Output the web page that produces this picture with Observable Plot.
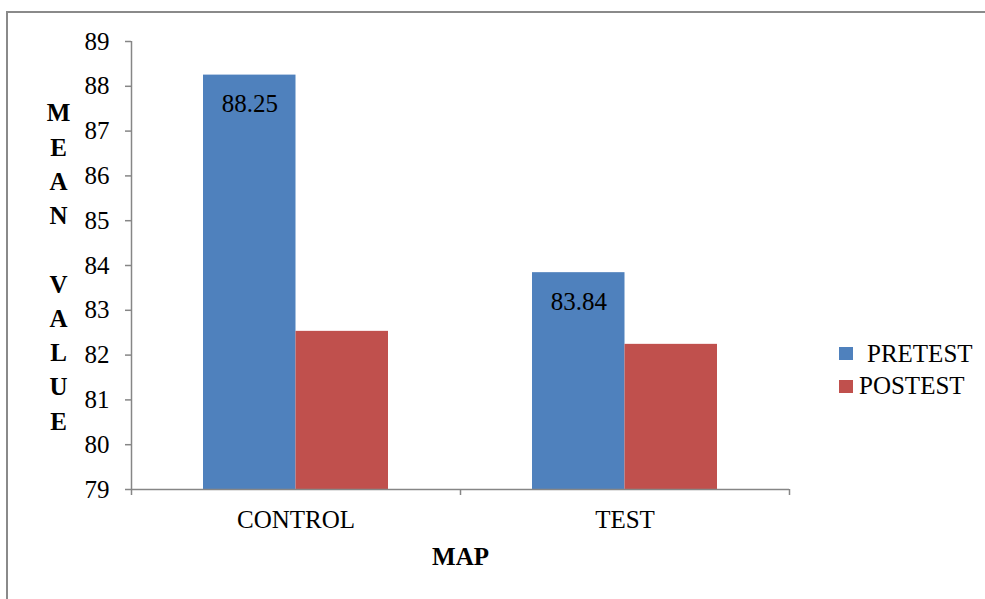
<!DOCTYPE html>
<html><head><meta charset="utf-8">
<script src="https://cdn.jsdelivr.net/npm/d3@7"></script>
<script src="https://cdn.jsdelivr.net/npm/@observablehq/plot@0.6"></script>
<style>
html,body{margin:0;padding:0;background:#fff;overflow:hidden;}
#wrap{position:relative;width:985px;height:599px;font-family:"Liberation Serif","DejaVu Serif",serif;}
#border{position:absolute;left:6px;top:11px;width:1000px;height:700px;border:2px solid #8a8a8a;pointer-events:none;z-index:2;}
#chart{position:absolute;left:0;top:0;}
#legend{position:absolute;left:0;top:0;font-size:25px;color:#000;line-height:1;}
.sw{position:absolute;width:14px;height:13px;}
.lb{position:absolute;white-space:nowrap;}
</style>
</head><body>
<div id="wrap"><div id="chart"></div><div id="legend"></div><div id="border"></div></div>
<script>
const groups = ["CONTROL", "TEST"];
const series = ["PRETEST", "POSTEST"];
const pretest = [88.25, 83.84];
const postest = [82.53, 82.24];
const yTicks = [79, 80, 81, 82, 83, 84, 85, 86, 87, 88, 89];
const colors = ["#4F81BD", "#C0504D"];
const yTitle = "M\nE\nA\nN\n\nV\nA\nL\nU\nE";
const xTitle = "MAP";

const data = groups.flatMap((g, i) => [
  {group: g, series: series[0], value: pretest[i]},
  {group: g, series: series[1], value: postest[i]}
]);
const yMin = yTicks[0], yMax = yTicks[yTicks.length - 1];

const W = 985, H = 599, mL = 131, mR = 196, mT = 41, mB = 110;
const bw = (W - mL - mR) / groups.length;
const gap = 72;            // space between band edge and first bar
const barW = (bw - 2 * gap) / 2;
const axisGray = "#868686";
const FS = 25;

const plot = Plot.plot({
  width: W, height: H,
  marginLeft: mL, marginRight: mR, marginTop: mT, marginBottom: mB,
  style: {background: "transparent", fontFamily: '"Liberation Serif","DejaVu Serif",serif', fontSize: FS + "px", color: "#000"},
  x: {type: "band", domain: groups, padding: 0},
  y: {domain: [yMin, yMax]},
  color: {domain: series, range: colors},
  marks: [
    Plot.barY(data.filter(d => d.series === series[0]), {x: "group", y1: () => yMin, y2: "value", fill: colors[0], insetLeft: gap, insetRight: gap + barW}),
    Plot.barY(data.filter(d => d.series === series[1]), {x: "group", y1: () => yMin, y2: "value", fill: colors[1], insetLeft: gap + barW, insetRight: gap}),
    Plot.text(data.filter(d => d.series === series[0]), {x: "group", y: "value", text: d => d.value.toFixed(2), dx: -(barW / 2), dy: 29, fontSize: FS, fill: "#000"}),
    Plot.ruleY([yMin], {stroke: axisGray, strokeWidth: 1.5}),
    Plot.ruleX([groups[0]], {x: d => d, dx: -bw / 2, y1: () => yMin, y2: () => yMax, stroke: axisGray, strokeWidth: 1.5}),
    Plot.ruleX(groups, {x: d => d, dx: -bw / 2, y1: () => yMin, y2: () => yMin, insetBottom: -6, stroke: axisGray, strokeWidth: 1.5}),
    Plot.ruleX([groups[groups.length - 1]], {x: d => d, dx: bw / 2, y1: () => yMin, y2: () => yMin, insetBottom: -6, stroke: axisGray, strokeWidth: 1.5}),
    Plot.axisY({ticks: yTicks, tickSize: 6, tickPadding: 16, stroke: axisGray, strokeWidth: 1.5, fill: "#000", fontSize: FS, label: null}),
    Plot.axisX({tickSize: 0, tickPadding: 21, fill: "#000", fontSize: FS, label: null}),
    Plot.text([xTitle], {frameAnchor: "bottom", textAnchor: "middle", dy: 75, fontWeight: "bold", fontSize: FS, fill: "#000"}),
    Plot.text([yTitle], {frameAnchor: "left", textAnchor: "middle", dx: -73, dy: -1, lineHeight: 1.37, fontWeight: "bold", fontSize: FS, fill: "#000"})
  ]
});
document.getElementById("chart").appendChild(plot);

// legend (HTML, right of the plot)
const legend = document.getElementById("legend");
const legendRows = [{sw: 347, txt: 341, tx: 867}, {sw: 380, txt: 373, tx: 859}];
series.forEach((s, i) => {
  const r = legendRows[i];
  legend.insertAdjacentHTML("beforeend",
    `<div class="sw" style="left:839px;top:${r.sw}px;background:${colors[i]}"></div>` +
    `<div class="lb" style="left:${r.tx}px;top:${r.txt}px">${s}</div>`);
});
</script>
</body></html>
